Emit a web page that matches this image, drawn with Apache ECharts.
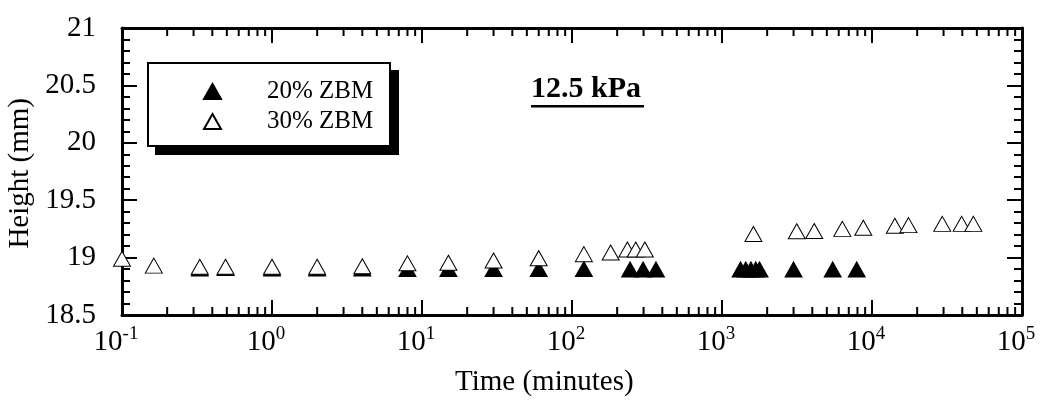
<!DOCTYPE html>
<html>
<head>
<meta charset="utf-8">
<script src="https://cdn.jsdelivr.net/npm/echarts@6/dist/echarts.min.js"></script>
<style>
  html, body { margin: 0; padding: 0; background: #fff; }
  #chart { width: 1041px; height: 400px; }
</style>
</head>
<body>
<div id="chart"></div>
<script>
// Consolidation height versus elapsed time (log scale)
const seriesNames = ['20% ZBM', '30% ZBM'];

const time20 = [0.33, 0.49, 1.0, 2.0, 4.0, 8.0, 15, 30, 60, 120, 244, 298, 363,
                1330, 1440, 1560, 1680, 1780, 3000, 5470, 7910];
const height20 = [18.905, 18.91, 18.905, 18.905, 18.905, 18.90, 18.90, 18.90, 18.90, 18.90, 18.897, 18.897, 18.897,
                  18.897, 18.897, 18.897, 18.897, 18.897, 18.897, 18.897, 18.897];

const time30 = [0.1, 0.163, 0.33, 0.49, 1.0, 2.0, 4.0, 8.0, 15, 30, 60, 120, 181, 234, 266, 306,
                1620, 3150, 4120, 6340, 8750, 14200, 17500, 29400, 39600, 47400];
const height30 = [18.99, 18.93, 18.92, 18.92, 18.92, 18.92, 18.925, 18.95, 18.955, 18.975, 18.995, 19.03, 19.045, 19.07, 19.07, 19.07,
                  19.205, 19.23, 19.232, 19.25, 19.26, 19.277, 19.283, 19.294, 19.294, 19.294];

const yTicks = [18.5, 19, 19.5, 20, 20.5, 21];
const xDecades = [0.1, 1, 10, 100, 1000, 10000, 100000];
const panelLabel = '12.5 kPa';
const xTitle = 'Time (minutes)';
const yTitle = 'Height (mm)';

// minor tick positions on the log axis: 2..9 within each decade
const minorX = [];
for (let d = 0; d < xDecades.length - 1; d++) {
  for (let k = 2; k <= 9; k++) minorX.push([xDecades[d] * k, yTicks[0]]);
}

const FONT = "'Liberation Serif', 'Times New Roman', serif";
const chart = echarts.init(document.getElementById('chart'), null, { renderer: 'canvas' });

function pairs(xs, ys) { return xs.map((x, i) => [x, ys[i]]); }

const xCommon = {
  type: 'log', logBase: 10,
  min: xDecades[0], max: xDecades[xDecades.length - 1],
  splitNumber: 6,
  splitLine: { show: false },
  axisLine: { show: true, onZero: false, lineStyle: { color: '#000', width: 3 } },
  axisTick: { show: true, inside: true, length: 15, lineStyle: { color: '#000', width: 2 } }
};
const yCommon = {
  type: 'value',
  min: yTicks[0], max: yTicks[yTicks.length - 1], interval: 0.5,
  splitLine: { show: false },
  axisLine: { show: true, onZero: false, lineStyle: { color: '#000', width: 3 } },
  axisTick: { show: true, inside: true, length: 15, lineStyle: { color: '#000', width: 2 } },
  minorTick: { show: true, splitNumber: 5, length: 8, lineStyle: { color: '#000', width: 2 } },
  minorSplitLine: { show: false }
};

chart.setOption({
  backgroundColor: '#fff',
  animation: false,
  grid: { left: 122, right: 19, top: 28, bottom: 85 },
  xAxis: [
    Object.assign({}, xCommon, {
      position: 'bottom',
      axisLabel: {
        margin: 10,
        formatter: function (v) {
          const e = Math.round(Math.log10(v));
          return '{b|10}{s|' + e + '}';
        },
        rich: {
          b: { fontFamily: FONT, fontSize: 29, color: '#000', lineHeight: 34 },
          s: { fontFamily: FONT, fontSize: 19, color: '#000', verticalAlign: 'top', padding: [0, 12, 0, 0] }
        }
      }
    }),
    Object.assign({}, xCommon, { position: 'top', axisLabel: { show: false } })
  ],
  yAxis: [
    Object.assign({}, yCommon, {
      position: 'left',
      axisLabel: { margin: 26, fontFamily: FONT, fontSize: 29, color: '#000', padding: [0, 0, 14, 0] }
    }),
    Object.assign({}, yCommon, { position: 'right', axisLabel: { show: false } })
  ],
  legend: {
    data: seriesNames,
    orient: 'vertical',
    left: 147, top: 62,
    padding: [17, 18, 12, 56],
    itemWidth: 17, itemHeight: 15, itemGap: 5,
    backgroundColor: 'transparent', borderWidth: 0,
    textStyle: { fontFamily: FONT, fontSize: 25, color: '#000', lineHeight: 25, padding: [0, 0, 0, 41] },
    selectedMode: false,
    z: 10
  },
  graphic: [
    // legend frame with a solid drop shadow
    { type: 'rect', z: 1, shape: { x: 155, y: 70, width: 244, height: 85 }, style: { fill: '#000' } },
    { type: 'rect', z: 2, shape: { x: 148, y: 63, width: 242, height: 83 }, style: { fill: '#fff', stroke: '#000', lineWidth: 2 } },
    {
      type: 'text', left: 531, top: 74,
      style: { text: panelLabel, fontFamily: FONT, fontSize: 30, fontWeight: 'bold', fill: '#000' }
    },
    {
      type: 'rect', left: 531, top: 105,
      shape: { width: 113, height: 2.5 }, style: { fill: '#000' }
    },
    {
      type: 'text', left: 455, top: 368,
      style: { text: xTitle, fontFamily: FONT, fontSize: 29, fill: '#000' }
    },
    {
      type: 'text', left: 6, top: 98, rotation: Math.PI / 2,
      style: { text: yTitle, fontFamily: FONT, fontSize: 29, fill: '#000' }
    }
  ],
  series: [
    {
      name: 'minor ticks', type: 'custom', xAxisIndex: 0, yAxisIndex: 0,
      silent: true, clip: false, z: 3,
      data: minorX,
      renderItem: function (params, api) {
        const v = api.value(0);
        const b = api.coord([v, yTicks[0]]);
        const t = api.coord([v, yTicks[yTicks.length - 1]]);
        const st = { stroke: '#000', lineWidth: 2 };
        return {
          type: 'group',
          children: [
            { type: 'line', shape: { x1: b[0], y1: b[1], x2: b[0], y2: b[1] - 8 }, style: st },
            { type: 'line', shape: { x1: t[0], y1: t[1], x2: t[0], y2: t[1] + 8 }, style: st }
          ]
        };
      }
    },
    {
      name: seriesNames[0], type: 'scatter',
      symbol: 'triangle', symbolSize: [17, 15],
      itemStyle: { color: '#000', borderColor: '#000', borderWidth: 1, opacity: 1 },
      data: pairs(time20, height20), z: 4
    },
    {
      name: seriesNames[1], type: 'scatter',
      symbol: 'triangle', symbolSize: [17, 15],
      itemStyle: { color: '#fff', borderColor: '#000', borderWidth: 1, opacity: 1 },
      data: pairs(time30, height30), z: 5
    }
  ]
});
</script>
</body>
</html>
